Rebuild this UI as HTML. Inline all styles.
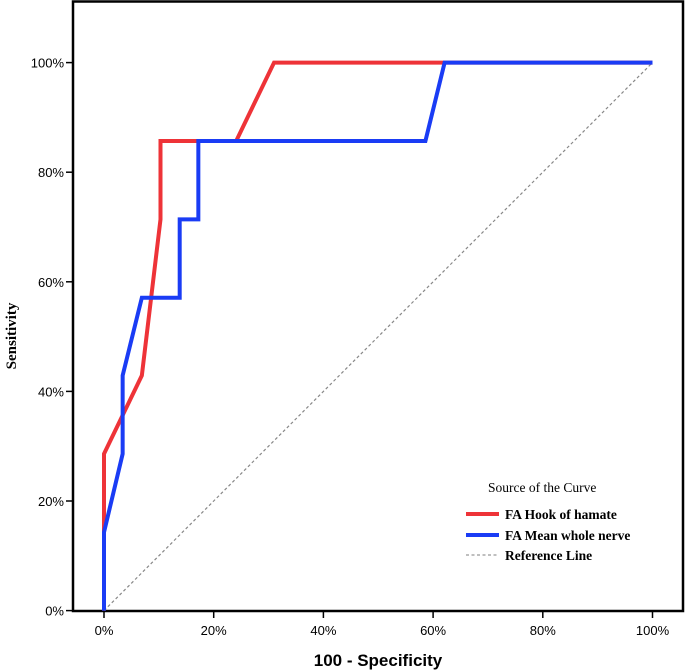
<!DOCTYPE html>
<html><head><meta charset="utf-8"><style>
body{margin:0;background:#fff;}
svg{display:block;}
</style></head><body>
<svg id="chart" width="685" height="672" xmlns="http://www.w3.org/2000/svg">
<rect x="73" y="1.5" width="610" height="609.5" fill="#fff" stroke="#000" stroke-width="2.5"/>
<g id="grid"></g>
<g id="series"></g>
<text transform="translate(16,336) rotate(-90)" text-anchor="middle" font-family="Liberation Serif, serif" font-weight="bold" font-size="15">Sensitivity</text>
<text x="378" y="666" text-anchor="middle" font-family="Liberation Sans, sans-serif" font-weight="bold" font-size="17">100 - Specificity</text>
<g font-family="Liberation Serif, serif" font-size="13.5">
<text x="488" y="492">Source of the Curve</text>
<line x1="466" y1="514" x2="499" y2="514" stroke="#ee3338" stroke-width="4"/>
<text x="505" y="519" font-weight="bold">FA Hook of hamate</text>
<line x1="466" y1="535" x2="499" y2="535" stroke="#1a3cf5" stroke-width="4"/>
<text x="505" y="540" font-weight="bold">FA Mean whole nerve</text>
<line x1="466" y1="555" x2="499" y2="555" stroke="#999" stroke-width="1.2" stroke-dasharray="3,2.5"/>
<text x="505" y="560" font-weight="bold">Reference Line</text>
</g>
</svg>
<script>
const ticks = [0, 20, 40, 60, 80, 100];
const hookX = [0, 0, 6.9, 10.3, 10.3, 24.1, 31.0, 100];
const hookY = [0, 28.6, 42.9, 71.4, 85.7, 85.7, 100, 100];
const meanX = [0, 0, 3.4, 3.4, 6.9, 13.8, 13.8, 17.2, 17.2, 58.6, 62.1, 100];
const meanY = [0, 14.3, 28.6, 42.9, 57.1, 57.1, 71.4, 71.4, 85.7, 85.7, 100, 100];
const refX = [0, 100];
const refY = [0, 100];

const NS = 'http://www.w3.org/2000/svg';
function sx(v){ return 104 + v * 5.485; }
function sy(v){ return 610.6 - v * 5.48; }
const grid = document.getElementById('grid');
const series = document.getElementById('series');
ticks.forEach(t => {
  let l = document.createElementNS(NS,'line');
  
  
  l.setAttribute('x1',66); l.setAttribute('x2',73); l.setAttribute('y1',sy(t)); l.setAttribute('y2',sy(t));
  l.setAttribute('stroke','#000'); l.setAttribute('stroke-width','1.5');
  grid.appendChild(l);
  let tx = document.createElementNS(NS,'text');
  
  
  tx.setAttribute('x',64); tx.setAttribute('y',sy(t)+5);
  tx.setAttribute('text-anchor','end');
  tx.setAttribute('font-family','Liberation Sans, sans-serif'); tx.setAttribute('font-size','13');
  tx.textContent = t + '%';
  grid.appendChild(tx);
  let lx = document.createElementNS(NS,'line');
  
  
  lx.setAttribute('x1',sx(t)); lx.setAttribute('x2',sx(t)); lx.setAttribute('y1',611); lx.setAttribute('y2',618);
  lx.setAttribute('stroke','#000'); lx.setAttribute('stroke-width','1.5');
  grid.appendChild(lx);
  let tt = document.createElementNS(NS,'text');
  
  
  tt.setAttribute('x',sx(t)); tt.setAttribute('y',635);
  tt.setAttribute('text-anchor','middle');
  tt.setAttribute('font-family','Liberation Sans, sans-serif'); tt.setAttribute('font-size','13');
  tt.textContent = t + '%';
  grid.appendChild(tt);
});
function poly(xs, ys, color, w, dash, name){
  let p = document.createElementNS(NS,'polyline');
  
  
  p.setAttribute('points', xs.map((x,i)=>sx(x)+','+sy(ys[i])).join(' '));
  p.setAttribute('fill','none'); p.setAttribute('stroke',color); p.setAttribute('stroke-width',w);
  p.setAttribute('stroke-linejoin','miter');
  if(dash) p.setAttribute('stroke-dasharray',dash);
  series.appendChild(p);
}
poly(refX, refY, '#888', 1.2, '3,2.5', 'reference-line');
poly(hookX, hookY, '#ee3338', 4, null, 'hook-of-hamate-curve');
poly(meanX, meanY, '#1a3cf5', 4, null, 'mean-whole-nerve-curve');
</script>
</body></html>
